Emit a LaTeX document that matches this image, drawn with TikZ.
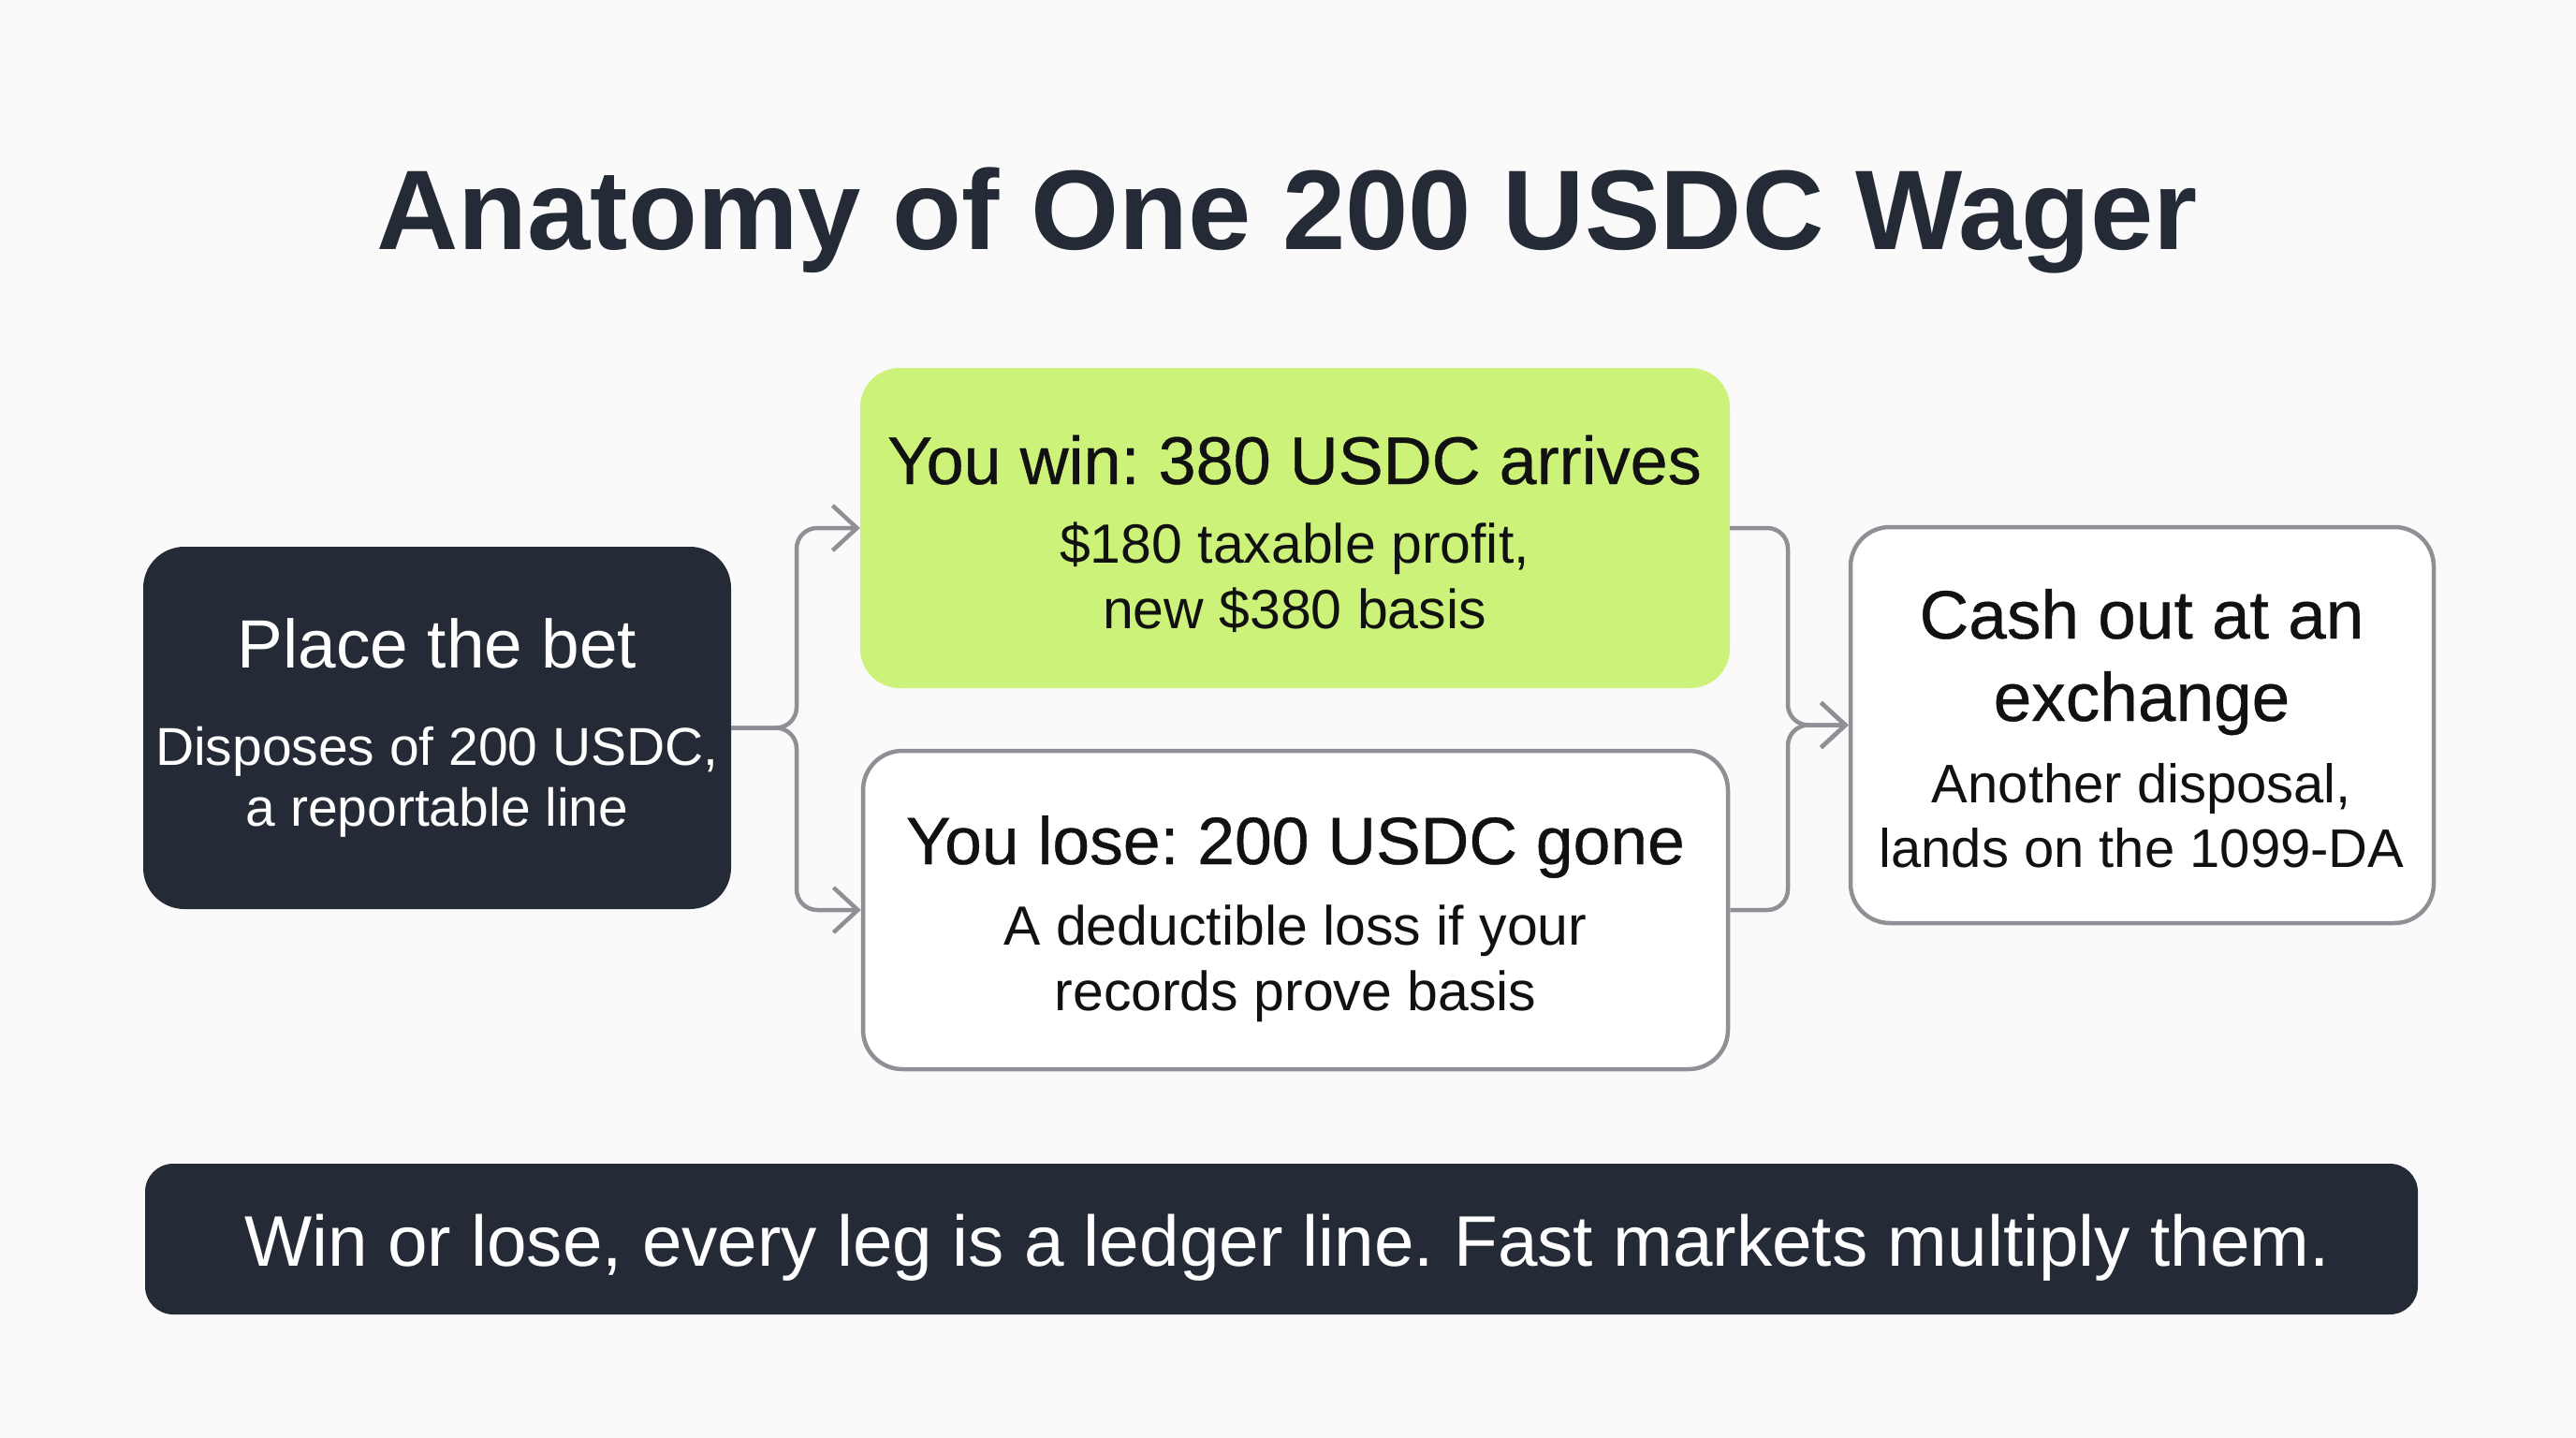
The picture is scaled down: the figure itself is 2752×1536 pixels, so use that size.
\documentclass[tikz,border=0pt]{standalone}
\usepackage{fontspec}
\setmainfont{Liberation Sans}
\newfontfamily\medfont{Liberation Sans}[FakeBold=0.5]
\usetikzlibrary{arrows.meta}
\definecolor{bg}{HTML}{FAFAFA}
\definecolor{navy}{HTML}{252B36}
\definecolor{lime}{HTML}{CDF27A}
\definecolor{edgegray}{HTML}{8E9096}
\definecolor{ink}{HTML}{111111}
\definecolor{titleink}{HTML}{252B36}
\newcommand\myfs[1]{\fontsize{#1}{#1}\selectfont}
\frenchspacing
\begin{document}
\begin{tikzpicture}[x=1pt,y=-1pt,
  darkbox/.style={draw=none,fill=navy,rounded corners=44pt,inner sep=0pt},
  limebox/.style={draw=none,fill=lime,rounded corners=42pt,inner sep=0pt},
  whitebox/.style={draw=edgegray,line width=4.5pt,fill=white,rounded corners=42pt,inner sep=0pt},
  txt/.style={inner sep=0pt,anchor=base},
  conn/.style={draw=edgegray,line width=4.5pt,rounded corners=22pt,-{Straight Barb[length=26pt,width=48pt,line width=4.5pt]}}]
\fill[bg] (0,0) rectangle (2752,1536);
\useasboundingbox (0,0) rectangle (2752,1536);

% title
\node[txt,text=titleink,font=\myfs{121}\bfseries] (title) at (1375,266) {Anatomy of One 200 USDC Wager};

% boxes
\node[darkbox,minimum width=628pt,minimum height=387pt] (place) at (467,777.5) {};
\node[limebox,minimum width=929pt,minimum height=342pt] (win) at (1383.5,564) {};
\node[whitebox,minimum width=924pt,minimum height=340pt] (lose) at (1384,972) {};
\node[whitebox,minimum width=623pt,minimum height=423pt] (cash) at (2288.5,774.5) {};
\node[darkbox,rounded corners=30pt,minimum width=2428pt,minimum height=161pt] (bar) at (1369,1323.5) {};

% texts
\node[txt,text=white,font=\myfs{73}] (placeT) at (467,713) {Place the bet};
\node[txt,text=white,font=\myfs{57}] (placeA) at (467,817) {Disposes of 200 USDC,};
\node[txt,text=white,font=\myfs{57}] (placeB) at (467,882) {a reportable line};

\node[txt,text=ink,font=\medfont\myfs{72}] (winT) at (1383,517) {You win: 380 USDC arrives};
\node[txt,text=ink,font=\myfs{59}] (winA) at (1383,601) {\$180 taxable profit,};
\node[txt,text=ink,font=\myfs{59}] (winB) at (1383,671) {new \$380 basis};

\node[txt,text=ink,font=\medfont\myfs{71.5}] (loseT) at (1384,923) {You lose: 200 USDC gone};
\node[txt,text=ink,font=\myfs{59}] (loseA) at (1384,1009) {A deductible loss if your};
\node[txt,text=ink,font=\myfs{59}] (loseB) at (1384,1079) {records prove basis};

\node[txt,text=ink,font=\medfont\myfs{73}] (cashT) at (2288,682) {Cash out at an};
\node[txt,text=ink,font=\medfont\myfs{73}] (cashU) at (2288,770) {exchange};
\node[txt,text=ink,font=\myfs{58}] (cashA) at (2288,857) {Another disposal,};
\node[txt,text=ink,font=\myfs{58}] (cashB) at (2288,926) {lands on the 1099-DA};

\node[txt,text=white,font=\myfs{76.5}] (barT) at (1375,1352) {Win or lose, every leg is a ledger line. Fast markets multiply them.};

% connectors
\coordinate (s1) at (851,777.5);
\coordinate (s2) at (1910,774.5);
\draw[conn] (place.east) -- (s1) |- (win.west);
\draw[conn] (place.east) -- (s1) |- (lose.west);
\draw[conn] (win.east) -| (s2) -- (cash.west);
\draw[conn] (lose.east) -| (s2) -- (cash.west);
\end{tikzpicture}
\end{document}
